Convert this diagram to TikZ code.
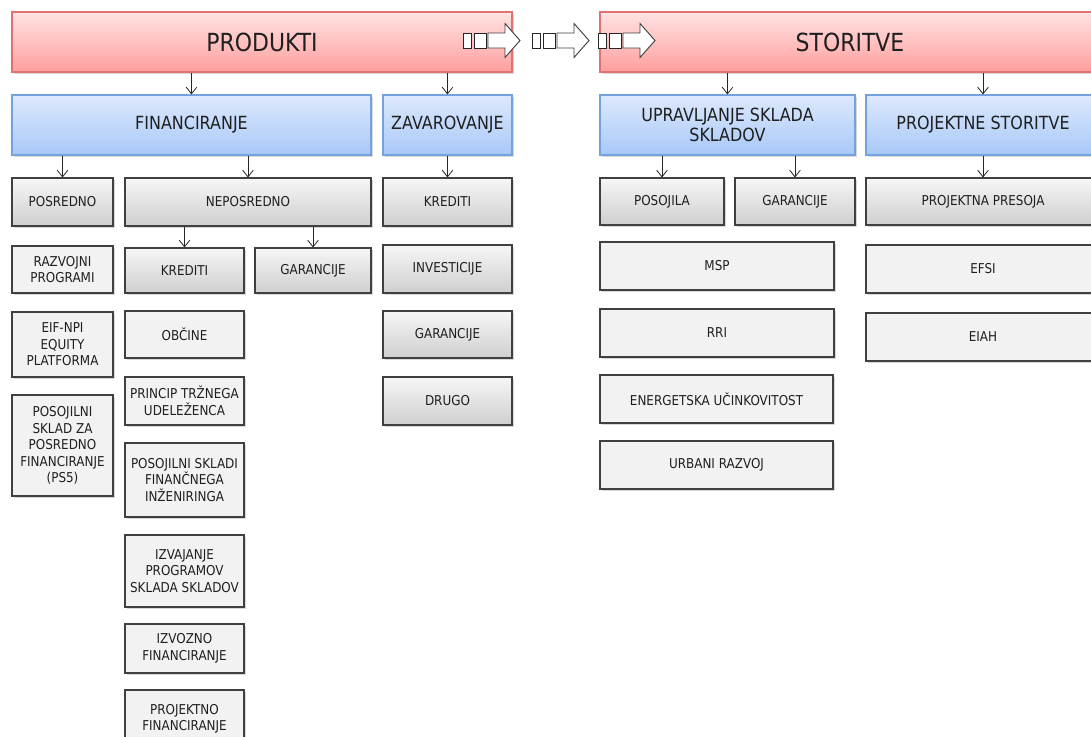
\documentclass[tikz,border=0pt]{standalone}
\usepackage{fontspec}
\setmainfont{DejaVu Sans}[FakeStretch=0.88]
\usetikzlibrary{arrows.meta,shadows}
\definecolor{redtop}{HTML}{FFE3E3}
\definecolor{redbot}{HTML}{FF9E9E}
\definecolor{redline}{HTML}{E07272}
\definecolor{bluetop}{HTML}{DDE9FD}
\definecolor{bluebot}{HTML}{A8C8F7}
\definecolor{blueline}{HTML}{74A2DE}
\definecolor{graytop}{HTML}{F6F6F6}
\definecolor{graybot}{HTML}{CFCFCF}
\definecolor{lightfill}{HTML}{F2F2F2}
\definecolor{boxline}{HTML}{404040}
\definecolor{txt}{HTML}{1F1F1F}
\newcommand\mybox[7]{\node[#6, minimum width={(#4-#2)*0.75pt}, minimum height={(#5-#3)*0.75pt}] (#1) at ({(#2+#4)/2},{(#3+#5)/2}) {#7};}
\begin{document}
\begin{tikzpicture}[x=0.75pt,y=-0.75pt,
  base/.style={rectangle, align=center, inner sep=1pt, text=txt,
    drop shadow={shadow xshift=1.2pt, shadow yshift=-1.2pt, opacity=0.3}},
  redbox/.style={base, draw=redline, line width=0.8pt, top color=redtop, bottom color=redbot,
    font=\fontsize{18.7}{22}\selectfont},
  bluebox/.style={base, draw=blueline, line width=0.8pt, top color=bluetop, bottom color=bluebot,
    font=\fontsize{13.6}{14.6}\selectfont},
  graybox/.style={base, draw=boxline, line width=0.8pt, top color=graytop, bottom color=graybot,
    font=\fontsize{10.2}{12.4}\selectfont},
  lightbox/.style={base, draw=boxline, line width=0.8pt, fill=lightfill,
    font=\fontsize{10.2}{12.4}\selectfont},
  conn/.style={draw=black!85, line width=0.6pt, -{Straight Barb[length=5pt,width=8pt]}},
  glyph/.pic={
    \draw[draw=black!85, fill=white, line width=0.75pt] (0,-7.5) rectangle (8,7.5);
    \draw[draw=black!85, fill=white, line width=0.75pt] (11,-7.5) rectangle (23,7.5);
    \draw[draw=black!75, fill=white, line width=0.7pt, line join=miter]
      (25,-7.5) -- (42,-7.5) -- (42,-17) -- (57,0) -- (42,17) -- (42,7.5) -- (25,7.5) -- cycle;
  }]
\useasboundingbox[fill=white] (0,0) rectangle (1091,736);

\mybox{prod}{12}{12}{512}{72}{redbox}{PRODUKTI}
\mybox{stor}{600}{12}{1100}{72}{redbox}{STORITVE}

\mybox{fin}{12}{95}{371}{155}{bluebox}{FINANCIRANJE}
\mybox{zav}{383}{95}{512}{155}{bluebox}{ZAVAROVANJE}
\mybox{upr}{600}{95}{855}{155}{bluebox}{UPRAVLJANJE SKLADA\\SKLADOV}
\mybox{pst}{866}{95}{1100}{155}{bluebox}{PROJEKTNE STORITVE}

\mybox{posr}{12}{178}{113}{226}{graybox}{POSREDNO}
\mybox{neposr}{125}{178}{371}{226}{graybox}{NEPOSREDNO}
\mybox{zkred}{383}{178}{512}{226}{graybox}{KREDITI}
\mybox{posoj}{600}{178}{724}{225}{graybox}{POSOJILA}
\mybox{rgar}{735}{178}{855}{225}{graybox}{GARANCIJE}
\mybox{presoja}{866}{178}{1100}{225}{graybox}{PROJEKTNA PRESOJA}

\mybox{razv}{12}{246}{113}{293}{lightbox}{RAZVOJNI\\PROGRAMI}
\mybox{nkred}{125}{248}{244}{293}{graybox}{KREDITI}
\mybox{ngar}{255}{248}{371}{293}{graybox}{GARANCIJE}
\mybox{inv}{383}{245}{512}{293}{graybox}{INVESTICIJE}
\mybox{msp}{600}{242}{834}{290}{lightbox}{MSP}
\mybox{efsi}{866}{245}{1100}{293}{lightbox}{EFSI}

\mybox{eif}{12}{312}{113}{377}{lightbox}{EIF-NPI\\EQUITY\\PLATFORMA}
\mybox{obc}{125}{311}{244}{358}{lightbox}{OBČINE}
\mybox{zgar}{383}{311}{512}{358}{graybox}{GARANCIJE}
\mybox{rri}{600}{309}{834}{357}{lightbox}{RRI}
\mybox{eiah}{866}{313}{1100}{361}{lightbox}{EIAH}

\mybox{ps5}{12}{395}{113}{496}{lightbox}{POSOJILNI\\SKLAD ZA\\POSREDNO\\FINANCIRANJE\\(PS5)}
\mybox{princ}{125}{377}{244}{425}{lightbox}{PRINCIP TRŽNEGA\\UDELEŽENCA}
\mybox{drugo}{383}{377}{512}{425}{graybox}{DRUGO}
\mybox{energ}{600}{375}{833}{423}{lightbox}{ENERGETSKA UČINKOVITOST}

\mybox{psfi}{125}{443}{244}{517}{lightbox}{POSOJILNI SKLADI\\FINANČNEGA\\INŽENIRINGA}
\mybox{urb}{600}{441}{833}{489}{lightbox}{URBANI RAZVOJ}
\mybox{izv}{125}{535}{244}{607}{lightbox}{IZVAJANJE\\PROGRAMOV\\SKLADA SKLADOV}
\mybox{izvoz}{125}{624}{244}{673}{lightbox}{IZVOZNO\\FINANCIRANJE}
\mybox{proj}{125}{690}{244}{748}{lightbox}{PROJEKTNO\\FINANCIRANJE}

\draw[conn] (prod.south -| fin.north) -- (fin.north);
\draw[conn] (prod.south -| zav.north) -- (zav.north);
\draw[conn] (stor.south -| upr.north) -- (upr.north);
\draw[conn] (stor.south -| pst.north) -- (pst.north);
\draw[conn] (fin.south -| posr.north) -- (posr.north);
\draw[conn] (fin.south -| neposr.north) -- (neposr.north);
\draw[conn] (zav.south) -- (zkred.north);
\draw[conn] (upr.south -| posoj.north) -- (posoj.north);
\draw[conn] (upr.south -| rgar.north) -- (rgar.north);
\draw[conn] (pst.south -| presoja.north) -- (presoja.north);
\draw[conn] (neposr.south -| nkred.north) -- (nkred.north);
\draw[conn] (neposr.south -| ngar.north) -- (ngar.north);

\pic at (463,40.5) {glyph};
\pic at (532,40.5) {glyph};
\pic at (598,40.5) {glyph};
\end{tikzpicture}
\end{document}
